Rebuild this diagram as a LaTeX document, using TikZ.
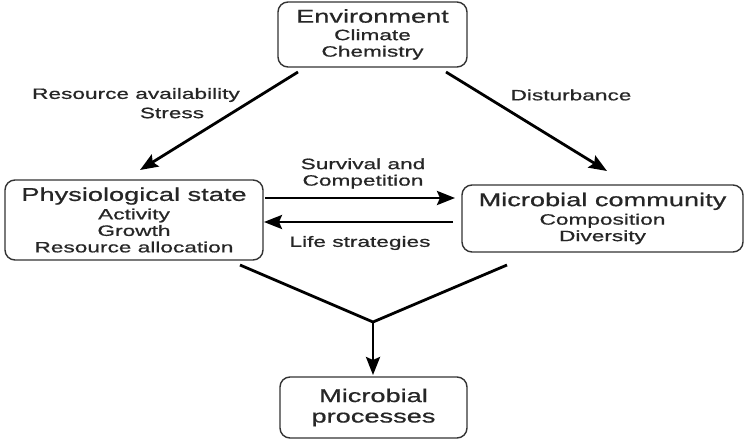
\documentclass[tikz,border=0pt]{standalone}
\usepackage{fontspec}
\setmainfont[FakeStretch=1.51,FakeBold=0.7]{Liberation Sans}
\newfontfamily\titlefam[FakeStretch=1.47,FakeBold=0.7]{Liberation Sans}
\usetikzlibrary{arrows.meta}
\newcommand{\titlef}{\titlefam\fontsize{18.5}{20.5}\selectfont}
\newcommand{\subf}{\fontsize{15}{16.5}\selectfont}
\begin{document}
\begin{tikzpicture}[x=1pt,y=-1pt,
  box/.style={draw=black!80,line width=1.4pt,rounded corners=10pt,inner sep=0pt,align=center,text=black!85,font=\subf},
  lbl/.style={text=black!85,font=\subf,align=center,inner sep=0pt},
  arr/.style={line width=2.8pt,-{Stealth[length=18pt,width=14pt,inset=3pt]}},
  ln/.style={line width=2.8pt}]
\useasboundingbox (0,0) rectangle (747,441);
\fill[white] (0,0) rectangle (747,441);
% boxes
\node[box,minimum width=189pt,minimum height=65pt] (env) at (372.5,34.5)
  {{\titlef Environment}\\[1pt]Climate\\Chemistry};
\node[box,minimum width=258pt,minimum height=80pt] (phys) at (134,220)
  {{\titlef Physiological state}\\[2pt]Activity\\Growth\\Resource allocation};
\node[box,minimum width=281pt,minimum height=67pt] (comm) at (602.5,218.5)
  {{\titlef Microbial community}\\[2pt]Composition\\Diversity};
\node[box,minimum width=187pt,minimum height=61pt,font=\titlef] (proc) at (373.5,407.5)
  {Microbial\\processes};
% connector end points
\coordinate (e1) at (298,72);
\coordinate (p1) at (140,170);
\coordinate (e2) at (446,72);
\coordinate (c1) at (607,171);
\coordinate (s1) at (265,198);
\coordinate (s2) at (455,198);
\coordinate (l1) at (453,222);
\coordinate (l2) at (264,222);
\coordinate (pb) at (240,265);
\coordinate (cb) at (507,265);
\coordinate (m) at (373,322);
\coordinate (pt) at (373,375);
% connectors
\draw[arr] (e1) -- (p1);
\draw[arr] (e2) -- (c1);
\draw[arr] (s1) -- (s2);
\draw[arr] (l1) -- (l2);
\draw[ln,line join=miter] (pb) -- (m) -- (cb);
\draw[arr] (m) -- (pt);
% labels
\node[lbl] (ra) at (136,95) {Resource availability};
\node[lbl] (st) at (172,113) {Stress};
\node[lbl] (di) at (571,95) {Disturbance};
\node[lbl] (sc) at (363,173.5) {Survival and\\Competition};
\node[lbl] (ls) at (360,243) {Life strategies};
\end{tikzpicture}
\end{document}
